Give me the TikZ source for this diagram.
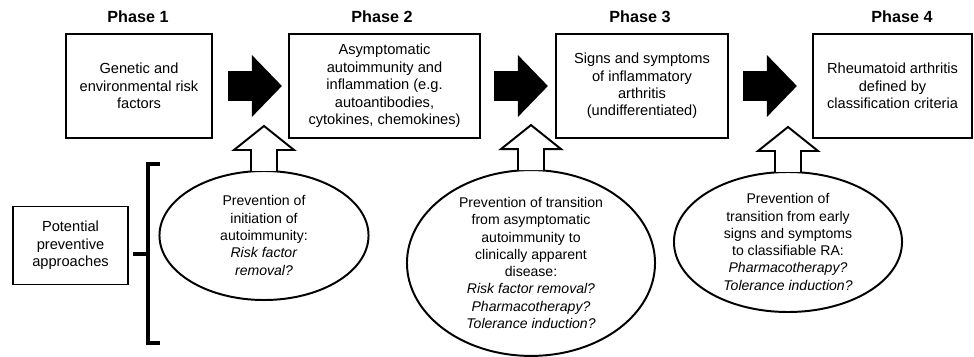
\documentclass[tikz,border=0pt]{standalone}
\usepackage{fontspec}
\setmainfont{Liberation Sans}
\usepackage{tikz}
\usetikzlibrary{shapes.geometric, arrows.meta, positioning}
\tikzset{
  phasebox/.style={rectangle, draw, line width=1.4pt, align=center,
    minimum height=2.6cm, inner sep=2pt, outer sep=0pt,
    font=\fontsize{10.4}{12.4}\selectfont},
  phaselabel/.style={font=\fontsize{11.5}{13}\selectfont\bfseries},
  approach/.style={ellipse, draw, line width=1.4pt, align=center,
    inner sep=0pt, outer sep=0pt, font=\fontsize{10}{12.3}\selectfont},
  fatarrow/.style={line width=0.725cm, -{Triangle[length=0.75cm, width=1.5cm]}},
  bracket/.style={line width=2.6pt},
  hollowup/.pic={
    \draw[line width=1.4pt, fill=white, line join=miter]
      (-13,0) -- (-13,-21) -- (-30,-21) -- (0,-45) -- (30,-21) -- (13,-21) -- (13,0);
  }
}

\begin{document}
\begin{tikzpicture}[x=0.025cm, y=-0.025cm]
  \useasboundingbox (0,0) rectangle (974,356);

  % Phases
  \node[phaselabel] (p1) at (138, 17) {Phase 1};
  \node[phaselabel] (p2) at (382, 17) {Phase 2};
  \node[phaselabel] (p3) at (640, 17) {Phase 3};
  \node[phaselabel] (p4) at (902, 17) {Phase 4};

  \node[phasebox, minimum width=3.65cm] (b1) at (139, 86)
    {Genetic and\\environmental risk\\factors};
  \node[phasebox, minimum width=4.775cm] (b2) at (384.5, 86)
    {Asymptomatic\\autoimmunity and\\inflammation (e.g.\\autoantibodies,\\cytokines, chemokines)};
  \node[phasebox, minimum width=4.3cm] (b3) at (642, 86)
    {Signs and symptoms\\of inflammatory\\arthritis\\(undifferentiated)};
  \node[phasebox, minimum width=3.975cm] (b4) at (892.5, 86)
    {Rheumatoid arthritis\\defined by\\classification criteria};

  % Progression
  \draw[fatarrow, shorten <=0.4cm, shorten >=0.175cm] (b1) -- (b2);
  \draw[fatarrow, shorten <=0.35cm, shorten >=0.2cm] (b2) -- (b3);
  \draw[fatarrow, shorten <=0.375cm, shorten >=0.4cm] (b3) -- (b4);

  % Prevention
  \node[approach, minimum width=5.225cm, minimum height=3.225cm] (e1) at (264, 235.5)
    {Prevention of\\initiation of\\autoimmunity:\\\textit{Risk factor}\\\textit{removal?}};
  \node[approach, minimum width=6.2cm, minimum height=4.55cm] (e2) at (531, 263)
    {Prevention of transition\\from asymptomatic\\autoimmunity to\\clinically apparent\\disease:\\
     \textit{Risk factor removal?}\\\textit{Pharmacotherapy?}\\\textit{Tolerance induction?}};
  \node[approach, minimum width=5.7cm, minimum height=3.5cm] (e3) at (788, 242)
    {Prevention of\\transition from early\\signs and symptoms\\to classifiable RA:\\
     \textit{Pharmacotherapy?}\\\textit{Tolerance induction?}};

  \pic at (e1.north) {hollowup};
  \pic at (e2.north) {hollowup};
  \pic at (e3.north) {hollowup};

  % Approaches
  \node[phasebox, minimum width=2.875cm, minimum height=1.95cm] (pot) at (70.5, 245.5)
    {Potential\\preventive\\approaches};
  \coordinate (brtop) at (160, 164);
  \coordinate (brbot) at (160, 343);
  \coordinate (brmid) at (148, 254);
  \draw[bracket] (brtop) -- (148, 164) -- (148, 343) -- (brbot);
  \draw[bracket] ([xshift=0.125cm]pot.east |- brmid) -- (brmid);
\end{tikzpicture}
\end{document}
